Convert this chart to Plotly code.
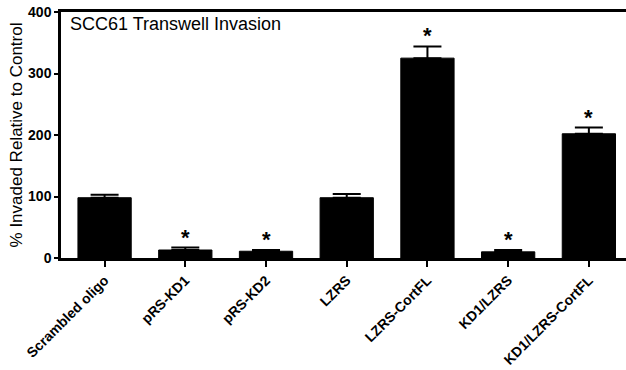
import plotly.graph_objects as go

# Transwell invasion data (% invaded relative to control)
groups = ["Scrambled oligo", "pRS-KD1", "pRS-KD2", "LZRS",
          "LZRS-CortFL", "KD1/LZRS", "KD1/LZRS-CortFL"]
means = [98, 13, 11, 98, 325, 10, 202]
sem = [5, 4, 2, 6, 19, 3, 10]
significant = [False, True, True, False, True, True, True]

FONT = "Liberation Sans, Arial, sans-serif"

fig = go.Figure()
fig.add_trace(go.Bar(
    x=groups, y=means, width=0.66,
    marker=dict(color="black", line=dict(color="black", width=1)),
    error_y=dict(type="data", array=sem, symmetric=False, arrayminus=[0] * len(sem),
                 color="black", thickness=2, width=14),
    showlegend=False,
))

# significance markers above the error caps
for g, m, s, sig in zip(groups, means, sem, significant):
    if sig:
        fig.add_annotation(x=g, y=m + s, text="<b>*</b>", showarrow=False,
                           yanchor="bottom", yshift=-4,
                           font=dict(family=FONT, size=22, color="black"))

fig.add_annotation(xref="paper", yref="paper", x=0.012, y=1.0,
                   xanchor="left", yanchor="top", text="SCC61 Transwell Invasion",
                   showarrow=False, font=dict(family=FONT, size=18, color="black"))

fig.update_layout(
    width=626, height=370,
    margin=dict(l=61, r=0, t=12, b=112),
    paper_bgcolor="white", plot_bgcolor="white",
    xaxis=dict(
        range=[-0.54, 6.46], showgrid=False, zeroline=False,
        showline=True, linecolor="black", linewidth=2.5, mirror=True,
        ticks="outside", ticklen=6, tickwidth=2, tickcolor="black",
        tickangle=-45,
        tickfont=dict(family=FONT, size=14, color="black", weight="bold"),
    ),
    yaxis=dict(
        range=[0, 400], tickvals=[0, 100, 200, 300, 400], showgrid=False,
        zeroline=False, showline=True, linecolor="black", linewidth=2.5,
        ticks="outside", ticklen=4, tickwidth=2, tickcolor="black",
        tickfont=dict(family=FONT, size=14, color="black", weight="bold"),
        title=dict(text="% Invaded Relative to Control", standoff=2,
                   font=dict(family=FONT, size=17, color="black")),
    ),
)

fig.write_html("out.html")
